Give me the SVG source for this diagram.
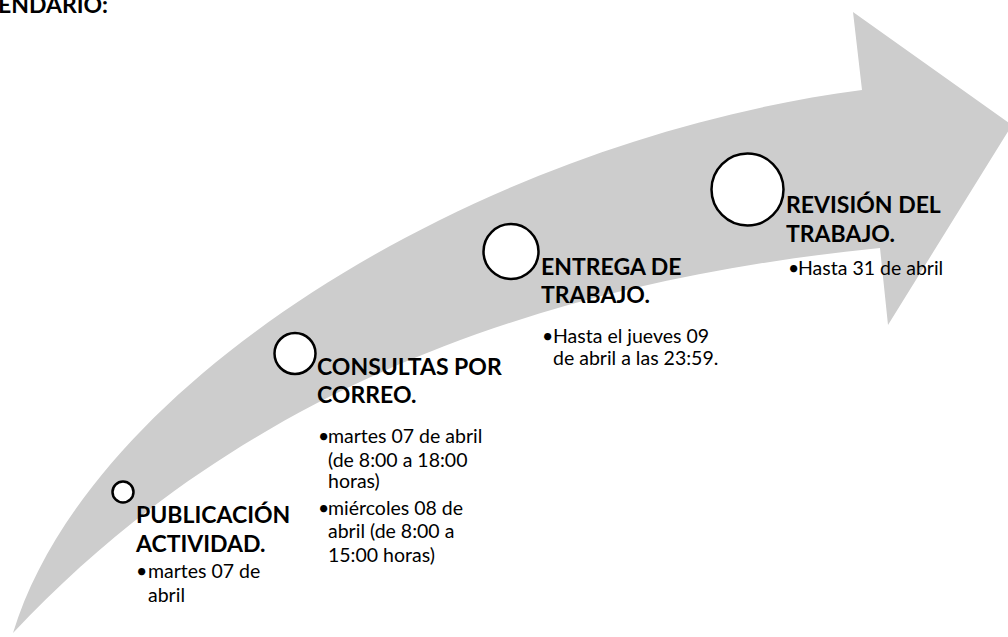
<svg xmlns="http://www.w3.org/2000/svg" width="1008" height="637" viewBox="0 0 1008 637">
<style>
.h{font-family:Lato,"Liberation Sans",sans-serif;font-weight:bold;font-size:23px;fill:#000}
.b{font-family:Lato,"Liberation Sans",sans-serif;font-size:19.5px;fill:#000}
.c{fill:#fff;stroke:#000;stroke-width:2.5}
</style>
<rect width="1008" height="637" fill="#fff"/>
<g id="arrow">
<path d="M13,633 C90,380 480,140 862,90 L853,12 L1012,125 L888,325 L880,248 C560,280 250,380 13,633 Z" fill="#cdcdcd"/>
</g>
<text class="h" x="-2" y="13">ENDARIO:</text>
<g id="node1">
<circle class="c" cx="123" cy="492" r="10.5"/>
<text class="h" x="136" y="523">PUBLICACIÓN</text>
<text class="h" x="136" y="552">ACTIVIDAD.</text>
<text class="b" x="136" y="578">•</text>
<text class="b" x="148" y="578">martes 07 de</text>
<text class="b" x="148" y="602">abril</text>
</g>
<g id="node2">
<circle class="c" cx="295" cy="353.5" r="20.5"/>
<text class="h" x="317" y="375">CONSULTAS POR</text>
<text class="h" x="317" y="403">CORREO.</text>
<text class="b" x="318" y="443">•</text>
<text class="b" x="328" y="443">martes 07 de abril</text>
<text class="b" x="328" y="467">(de 8:00 a 18:00</text>
<text class="b" x="328" y="488">horas)</text>
<text class="b" x="318" y="515">•</text>
<text class="b" x="328" y="515">miércoles 08 de</text>
<text class="b" x="328" y="538">abril (de 8:00 a</text>
<text class="b" x="328" y="562">15:00 horas)</text>
</g>
<g id="node3">
<circle class="c" cx="511" cy="251.5" r="27.5"/>
<text class="h" x="541" y="275">ENTREGA DE</text>
<text class="h" x="541" y="303">TRABAJO.</text>
<text class="b" x="542" y="343">•</text>
<text class="b" x="553" y="343">Hasta el jueves 09</text>
<text class="b" x="553" y="365">de abril a las 23:59.</text>
</g>
<g id="node4">
<circle class="c" cx="747.5" cy="189.5" r="36"/>
<text class="h" x="786" y="213">REVISIÓN DEL</text>
<text class="h" x="786" y="242">TRABAJO.</text>
<text class="b" x="788" y="275">•</text>
<text class="b" x="798" y="275">Hasta 31 de abril</text>
</g>
<g id="connectors"></g>
</svg>
